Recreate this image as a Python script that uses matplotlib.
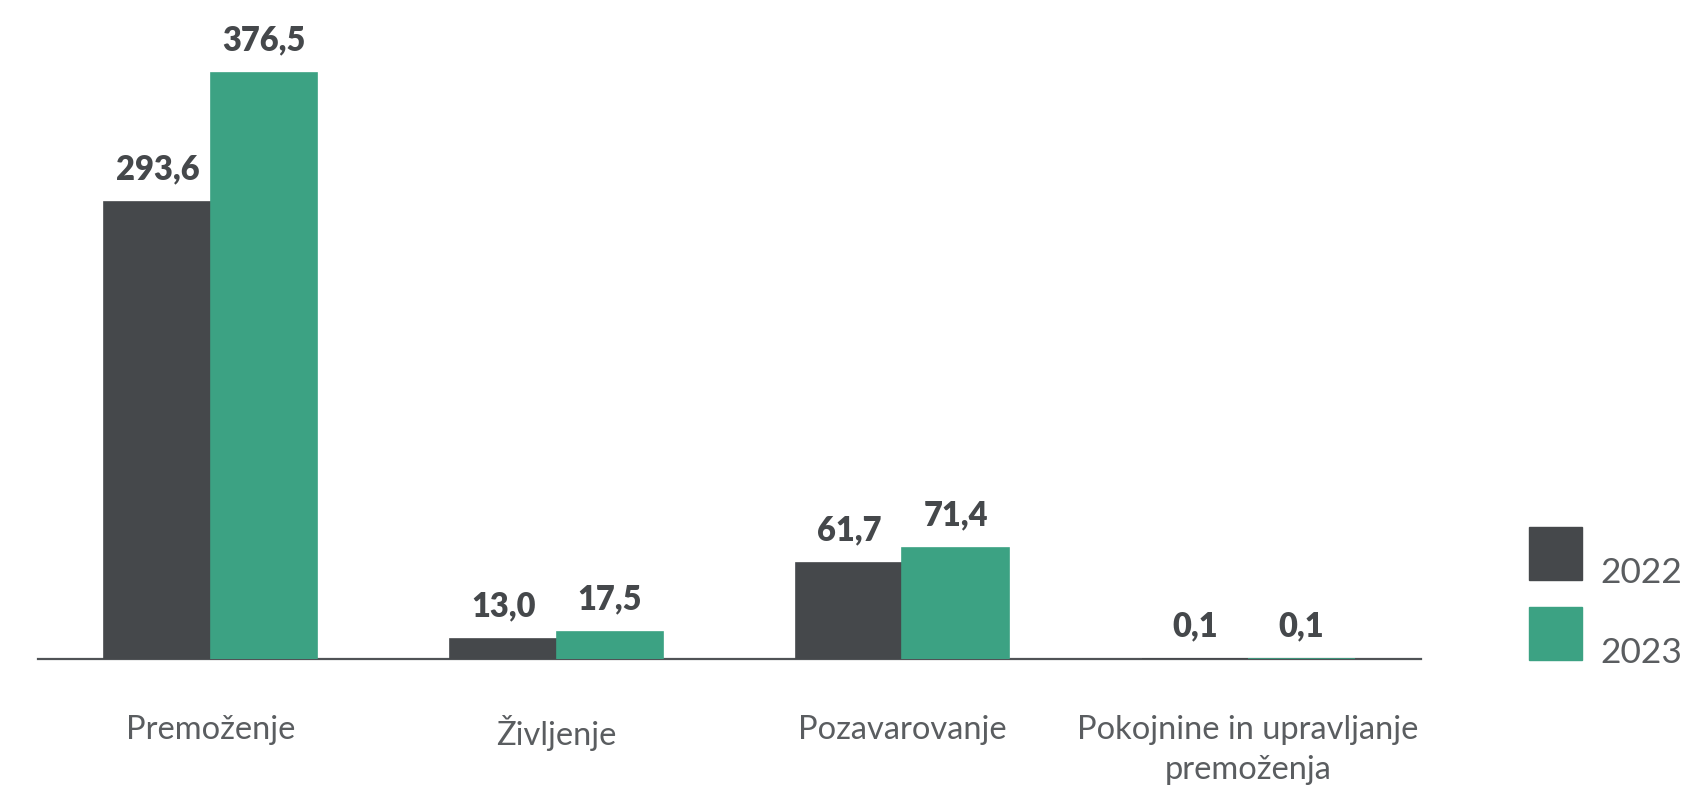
import matplotlib.pyplot as plt
from matplotlib.patches import Rectangle
import numpy as np

# Data
categories = ['Premoženje', 'Življenje', 'Pozavarovanje', 'Pokojnine in upravljanje\npremoženja']
years = ['2022', '2023']
values_2022 = [293.6, 13.0, 61.7, 0.1]
values_2023 = [376.5, 17.5, 71.4, 0.1]

dark = '#45484b'
green = '#3ca283'
label_color = '#5a5d60'

fig = plt.figure(figsize=(16.91, 7.93), dpi=100)
ax = fig.add_axes([38 / 1691, 1 - 659 / 793, (1421 - 38) / 1691, 659 / 793])

x = np.arange(len(categories))
w = 0.308
b1 = ax.bar(x - w / 2, values_2022, w, color=dark, edgecolor=dark, linewidth=1.2, zorder=3)
b2 = ax.bar(x + w / 2, values_2023, w, color=green, edgecolor=green, linewidth=1.2, zorder=3)

for bars, vals in [(b1, values_2022), (b2, values_2023)]:
    for rect, v in zip(bars, vals):
        ax.annotate(f'{v:.1f}'.replace('.', ','),
                    (rect.get_x() + rect.get_width() / 2, rect.get_height()),
                    xytext=(0, 16), textcoords='offset points',
                    ha='center', va='baseline', fontsize=23.5,
                    fontweight='heavy', family='Lato', color=dark)

ax.set_xlim(-0.5, 3.5)
ax.set_ylim(0, 659 / 1.557)
ax.set_xticks(x)
ax.set_xticklabels(categories, fontsize=23.5, family='Lato', fontweight='normal',
                   color=label_color, linespacing=1.45)
ax.tick_params(axis='x', length=0, pad=40)
ax.set_yticks([])
for s in ['top', 'right', 'left']:
    ax.spines[s].set_visible(False)
ax.spines['bottom'].set_color('#505356')
ax.spines['bottom'].set_linewidth(1.6)

# Legend, drawn by hand to match the layout
for i, (yr, col) in enumerate(zip(years, [dark, green])):
    top = 527 + i * 80
    fig.patches.append(Rectangle((1529 / 1691, 1 - (top + 53) / 793), 53 / 1691, 53 / 793,
                                 transform=fig.transFigure, color=col))
    fig.text(1600 / 1691, 1 - (top + 56) / 793, yr, fontsize=25.5, family='Lato',
             fontweight='normal', color=label_color, va='baseline', ha='left')

fig.savefig('out.png', dpi=100)
